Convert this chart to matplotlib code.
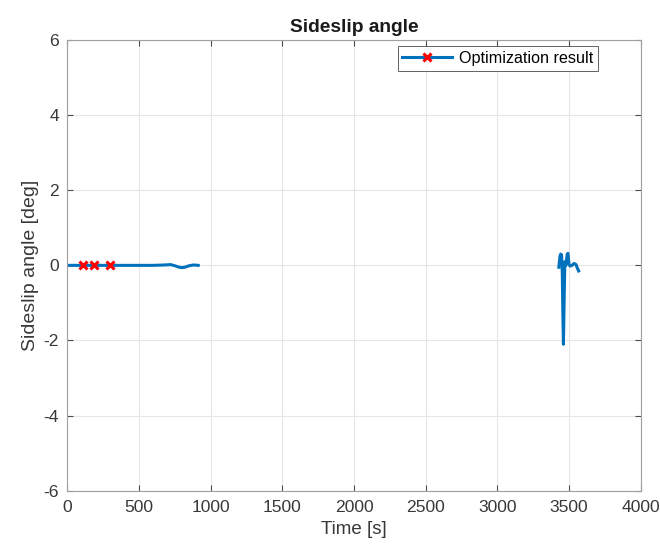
import numpy as np
import matplotlib.pyplot as plt

plt.rcParams['font.family'] = ['Liberation Sans', 'DejaVu Sans']
plt.rcParams['axes.unicode_minus'] = False

# first stretch of the optimization result
t_first = [0, 100, 200, 300, 400, 500, 600, 680, 720, 750, 780, 800, 820, 850, 880, 913]
beta_first = [0.0, 0.0, 0.0, 0.0, 0.0, 0.0, 0.0, 0.01, 0.02, -0.01, -0.05, -0.06, -0.05, -0.01, 0.01, 0.0]

# second stretch (after the gap)
t_second = [3428, 3436, 3441, 3447, 3452, 3456, 3460, 3465, 3470, 3478, 3486, 3492, 3498, 3506, 3520, 3535, 3548, 3558, 3566]
beta_second = [-0.05, 0.25, 0.3, 0.28, -0.2, -1.3, -2.1, -0.9, 0.1, 0.0, 0.3, 0.32, 0.05, -0.02, 0.0, 0.05, 0.02, -0.08, -0.15]

# red markers on the line
t_marks = [110, 185, 300]
beta_marks = [0.0, 0.0, 0.0]

blue = '#0072BD'
axis_grey = '#4d4d4d'

fig = plt.figure(figsize=(6.6, 5.46), dpi=100)
ax = fig.add_axes([0.102, 0.1013, 0.869, 0.8254])

t_all = t_first + [np.nan] + t_second
beta_all = beta_first + [np.nan] + beta_second
ax.plot(t_all, beta_all, color=blue, linewidth=2.2)
ax.plot(t_marks, beta_marks, linestyle='none', marker='x', color='red',
        markersize=6, markeredgewidth=2.2)

# legend proxy: line with a red cross in the middle
ax.plot([], [], color=blue, linewidth=2.2, marker='x', markersize=6,
        markeredgewidth=2.2, markeredgecolor='red', label='Optimization result')

ax.set_xlim(0, 4000)
ax.set_ylim(-6, 6)
ax.set_xticks(np.arange(0, 4001, 500))
ax.set_yticks(np.arange(-6, 7, 2))

ax.grid(True, color='#e6e6e6', linewidth=0.8)
ax.set_axisbelow(True)
ax.tick_params(direction='in', length=4, colors=axis_grey, labelcolor='#383838',
               labelsize=12.6, top=True, right=True, labeltop=False, labelright=False)
ax.tick_params(axis='x', pad=7)
ax.tick_params(axis='y', pad=6)
for sp in ax.spines.values():
    sp.set_color('#a0a0a0')
    sp.set_linewidth(0.8)

ax.set_title('Sideslip angle', fontsize=13.8, fontweight='bold', color='#1a1a1a', pad=6)
ax.set_xlabel('Time [s]', fontsize=13.5, color='#383838', labelpad=4)
ax.set_ylabel('Sideslip angle [deg]', fontsize=14, color='#383838', labelpad=3)

leg = ax.legend(loc='upper right', bbox_to_anchor=(0.925, 0.987), fontsize=11.6,
                frameon=True, fancybox=False, handlelength=3.1, borderpad=0.3,
                handletextpad=0.4, borderaxespad=0)
leg.get_frame().set_edgecolor('#3a3a3a')
leg.get_frame().set_linewidth(0.7)

fig.savefig('out.png', dpi=100, facecolor='white')
